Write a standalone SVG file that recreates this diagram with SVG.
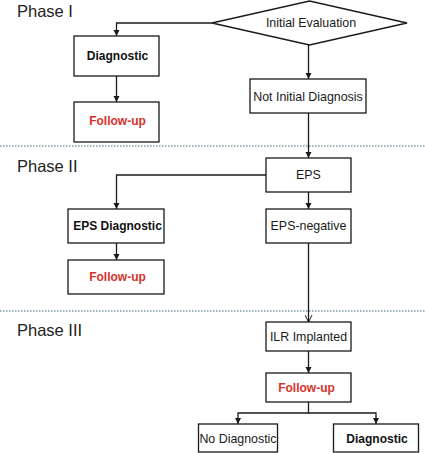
<svg xmlns="http://www.w3.org/2000/svg" width="425" height="453" viewBox="0 0 425 453">
<style>
.bx{fill:#fff;stroke:#1a1a1a;stroke-width:1.3}
.t{font-family:"Liberation Sans",Arial,sans-serif;font-size:12.4px;fill:#1a1a1a;text-anchor:middle;dominant-baseline:central}
.b{font-weight:bold;fill:#111;font-size:12px}
.r{font-weight:bold;fill:#d7312c;font-size:12px}
.ph{font-family:"Liberation Sans",Arial,sans-serif;font-size:16.5px;fill:#222}
.ln{fill:none;stroke:#1a1a1a;stroke-width:1.3}
.dot{stroke:#3f6677;stroke-width:1.2;stroke-dasharray:1.5 1.5}
</style>
<defs>
<marker id="ah" markerWidth="7" markerHeight="7" refX="6" refY="3.5" orient="auto" markerUnits="userSpaceOnUse">
<path d="M0,0.5 L6,3.5 L0,6.5 Z" fill="#1a1a1a"/>
</marker>
<marker id="ao" markerWidth="8" markerHeight="8" refX="7" refY="4" orient="auto" markerUnits="userSpaceOnUse">
<path d="M0,0.5 L7,4 L0,7.5" fill="none" stroke="#1a1a1a" stroke-width="1"/>
</marker>
</defs>
<g id="phases">
<text class="ph" x="17" y="17">Phase I</text>
<text class="ph" x="17" y="172">Phase II</text>
<text class="ph" x="17" y="336">Phase III</text>
<line class="dot" x1="0" y1="146" x2="425" y2="146"/>
<line class="dot" x1="0" y1="311" x2="425" y2="311"/>
</g>
<g id="connectors">
<path class="ln" d="M212,23 H116.5 V36" marker-end="url(#ah)"/>
<path class="ln" d="M116.5,76 V102" marker-end="url(#ah)"/>
<path class="ln" d="M308.5,45 V79" marker-end="url(#ah)"/>
<path class="ln" d="M308.5,113 V158" marker-end="url(#ah)"/>
<path class="ln" d="M266,175 H116.5 V209" marker-end="url(#ah)"/>
<path class="ln" d="M116.5,243 V260" marker-end="url(#ah)"/>
<path class="ln" d="M308.5,192 V209" marker-end="url(#ah)"/>
<path class="ln" d="M308.5,243 V322" marker-end="url(#ao)"/>
<path class="ln" d="M308.5,351 V373" marker-end="url(#ah)"/>
<path class="ln" d="M308.5,402 V413 H238 V424" marker-end="url(#ah)"/>
<path class="ln" d="M308.5,413 H376 V424" marker-end="url(#ah)"/>
</g>
<g id="initial-evaluation">
<polygon class="bx" points="212,23 309.5,1 407,23 309.5,45"/>
<text class="t" x="311" y="23">Initial Evaluation</text>
</g>
<g id="diagnostic1">
<rect class="bx" x="74" y="36" width="85" height="40"/>
<text class="t b" x="117.5" y="56">Diagnostic</text>
</g>
<g id="followup1">
<rect class="bx" x="74" y="102" width="85" height="40"/>
<text class="t r" x="117.5" y="121">Follow-up</text>
</g>
<g id="not-initial-diagnosis">
<rect class="bx" x="250" y="79" width="116" height="34"/>
<text class="t" x="308" y="97">Not Initial Diagnosis</text>
</g>
<g id="eps">
<rect class="bx" x="266" y="158" width="85" height="34"/>
<text class="t" x="308.5" y="175">EPS</text>
</g>
<g id="eps-diagnostic">
<rect class="bx" x="68" y="209" width="96" height="34"/>
<text class="t b" x="117.5" y="226">EPS Diagnostic</text>
</g>
<g id="followup2">
<rect class="bx" x="68" y="260" width="96" height="34"/>
<text class="t r" x="117.5" y="277">Follow-up</text>
</g>
<g id="eps-negative">
<rect class="bx" x="266" y="209" width="85" height="34"/>
<text class="t" x="308.5" y="226">EPS-negative</text>
</g>
<g id="ilr-implanted">
<rect class="bx" x="266" y="322" width="85" height="29"/>
<text class="t" x="308.5" y="337">ILR Implanted</text>
</g>
<g id="followup3">
<rect class="bx" x="266" y="373" width="85" height="29"/>
<text class="t r" x="306.5" y="387.5">Follow-up</text>
</g>
<g id="no-diagnostic">
<rect class="bx" x="198.5" y="424" width="79" height="28"/>
<text class="t" x="238" y="438.5">No Diagnostic</text>
</g>
<g id="diagnostic2">
<rect class="bx" x="333.5" y="424" width="85" height="28"/>
<text class="t b" x="377" y="438.5">Diagnostic</text>
</g>
</svg>
